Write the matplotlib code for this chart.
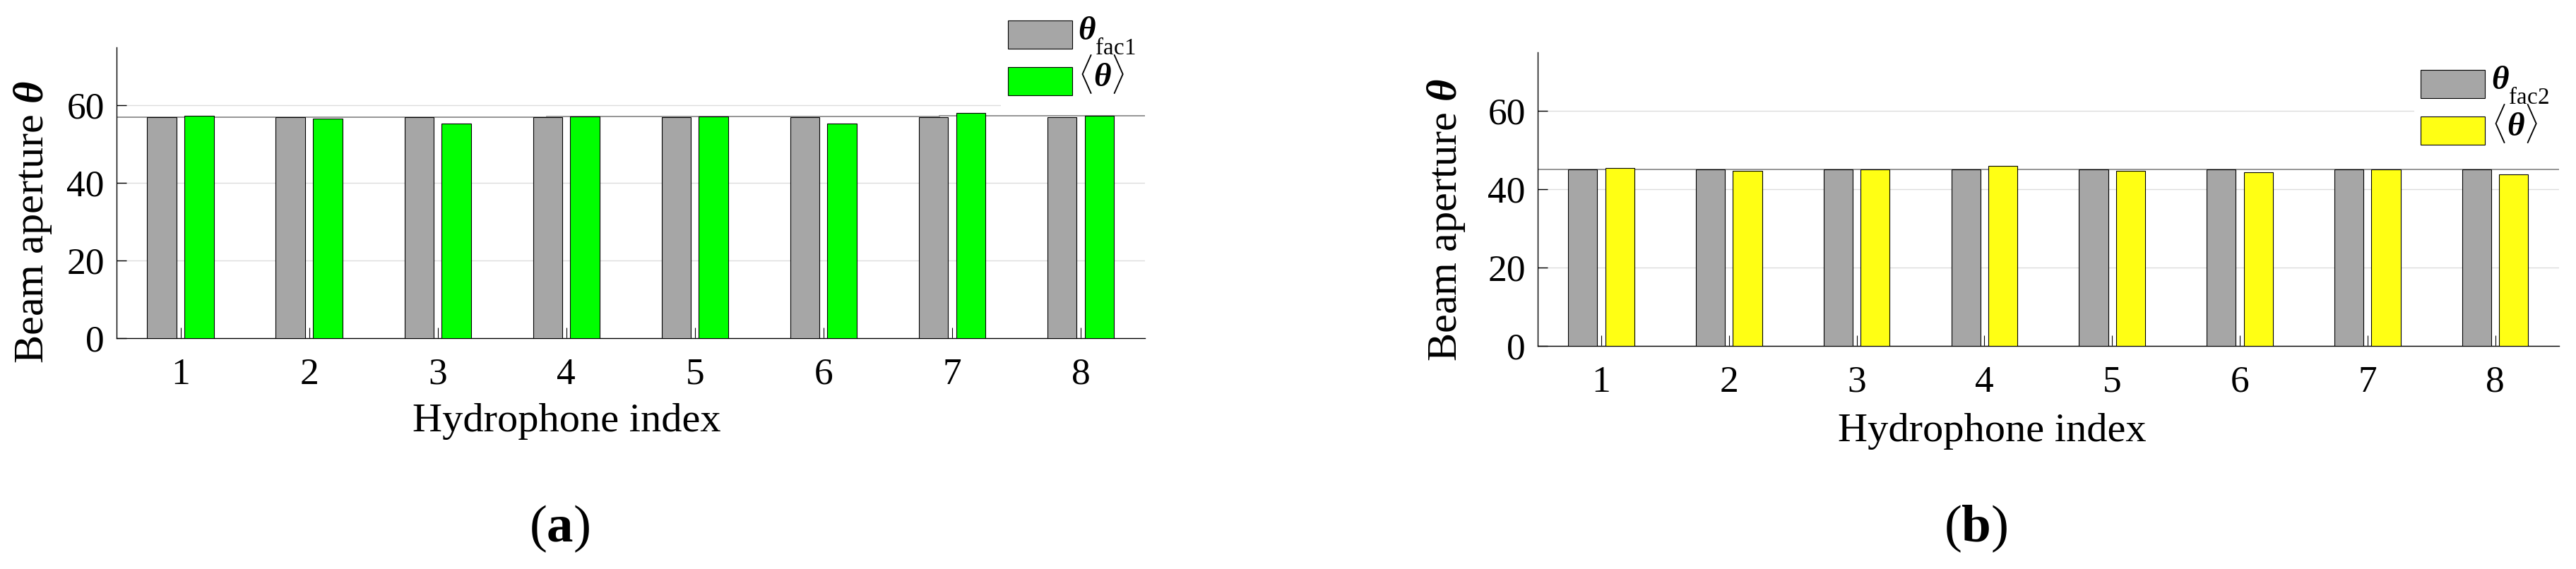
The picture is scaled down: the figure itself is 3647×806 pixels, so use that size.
import numpy as np
import matplotlib
matplotlib.use('Agg')
import matplotlib.pyplot as plt
import matplotlib._mathtext as mathtext_internal
from matplotlib.patches import Rectangle
from matplotlib.container import BarContainer
from matplotlib.legend_handler import HandlerPatch, update_from_first_child

# ---------------------------------------------------------------------------
# fonts (Times-like, as in the MATLAB original)
# ---------------------------------------------------------------------------
plt.rcParams['font.family'] = ['Liberation Serif', 'DejaVu Serif']
plt.rcParams['mathtext.fontset'] = 'custom'
plt.rcParams['mathtext.rm'] = 'Liberation Serif'
plt.rcParams['mathtext.it'] = 'Liberation Serif:italic'
plt.rcParams['mathtext.bf'] = 'Liberation Serif:bold'
plt.rcParams['mathtext.bfit'] = 'Liberation Serif:italic:bold'
# MATLAB/TeX drops the subscript lower than matplotlib does by default
mathtext_internal.FontConstantsBase.sub1 = 1.0

# ---------------------------------------------------------------------------
# data
# ---------------------------------------------------------------------------
hydrophones = [1, 2, 3, 4, 5, 6, 7, 8]

# panel (a)
theta_fac1 = [56.9, 56.9, 56.9, 56.9, 56.9, 56.9, 56.9, 56.9]
mean_theta_a = [57.3, 56.6, 55.3, 57.1, 57.1, 55.3, 58.0, 57.3]
ref_edges_a = [0.5, 3.85, 6.9, 8.5]
ref_vals_a = [56.9, 57.1, 57.3]

# panel (b)
theta_fac2 = [45.0, 45.0, 45.0, 45.0, 45.0, 45.0, 45.0, 45.0]
mean_theta_b = [45.5, 44.8, 45.1, 46.0, 44.8, 44.4, 45.1, 43.9]
ref_edges_b = [0.5, 4.17, 8.5]
ref_vals_b = [45.0, 45.1]

y_ticks = [0, 20, 40, 60]

# ---------------------------------------------------------------------------
# figure
# ---------------------------------------------------------------------------
W, H = 3647, 806
fig = plt.figure(figsize=(W / 100, H / 100), dpi=100)
LEG_FS = 34
LEG_FS_PX = LEG_FS * 100 / 72


def px_axes(left, top, right, bottom):
    return fig.add_axes([left / W, 1 - bottom / H, (right - left) / W, (bottom - top) / H])


def lowered_box(legend, orig_handle, xdescent, ydescent, width, height, fontsize):
    # colour box sits a bit lower than the label text in the MATLAB legend
    return Rectangle((-xdescent, -ydescent - 6.2), width, height)


bar_handler = HandlerPatch(patch_func=lowered_box, update_func=update_from_first_child)


def make_legend(ax, handles, labels, anchor, spacing):
    return ax.legend(handles, labels, loc='upper left', bbox_to_anchor=anchor,
                     bbox_transform=fig.transFigure, frameon=False,
                     borderpad=0, borderaxespad=0, handlelength=1.93,
                     handleheight=0.93, handletextpad=0.18,
                     labelspacing=spacing, fontsize=LEG_FS,
                     handler_map={BarContainer: bar_handler})


def legend_in_place(ax, handles, labels, hx, htop, row_step):
    # build the legend, then nudge it so the colour boxes sit where they are
    # in the original (left/top of first box, distance between boxes)
    anchor = (hx / W, 1 - htop / H)
    leg = make_legend(ax, handles, labels, anchor, 0.3)
    fig.canvas.draw()
    r = fig.canvas.get_renderer()
    hb = [h.get_window_extent(r) for h in leg.legend_handles]
    spacing = 0.3 + (row_step - (hb[0].y1 - hb[1].y1)) / LEG_FS_PX
    leg.remove()
    leg = make_legend(ax, handles, labels, anchor, spacing)
    fig.canvas.draw()
    hb0 = leg.legend_handles[0].get_window_extent(fig.canvas.get_renderer())
    dx = hx - hb0.x0
    dy = (H - htop) - hb0.y1
    leg.set_bbox_to_anchor((anchor[0] + dx / W, anchor[1] + dy / H),
                           transform=fig.transFigure)
    return leg


def draw_panel(ax, fac, mean, mean_color, fac_label, edges, vals,
               xlabel_xy, ylabel_xy):
    x = np.array(hydrophones)
    b1 = ax.bar(x - 0.145, fac, width=0.228, color='#a6a6a6',
                edgecolor='black', linewidth=0.8, zorder=3)
    b2 = ax.bar(x + 0.145, mean, width=0.228, color=mean_color,
                edgecolor='black', linewidth=0.8, zorder=3)
    ax.stairs(vals, edges, baseline=None, color='#8c8c8c', linewidth=1.3, zorder=2)

    ax.set_xlim(0.5, 8.5)
    ax.set_ylim(0, 75)
    ax.set_xticks(hydrophones)
    ax.set_yticks(y_ticks)
    ax.yaxis.grid(True, color='#dcdcdc', linewidth=1.0)
    ax.set_axisbelow(True)

    for s in ['top', 'right']:
        ax.spines[s].set_visible(False)
    for s in ['left', 'bottom']:
        ax.spines[s].set_linewidth(1.0)

    ax.tick_params(axis='x', direction='in', length=10.5, width=0.8,
                   labelsize=38.5, pad=20)
    ax.tick_params(axis='y', direction='in', length=10, width=1.0,
                   labelsize=38.5, pad=12)

    ax.set_xlabel('Hydrophone index', fontsize=42)
    ax.xaxis.set_label_coords(*xlabel_xy)
    ax.set_ylabel(r'Beam aperture $\mathbfit{\theta}$', fontsize=43.5)
    ax.yaxis.set_label_coords(*ylabel_xy)
    return [b1, b2], [fac_label, r'$\langle\mathbfit{\theta}\rangle$']


def legend_background(ax, left, top, right, bottom):
    ax.add_patch(Rectangle((left / W, 1 - bottom / H), (right - left) / W,
                           (bottom - top) / H, transform=fig.transFigure,
                           facecolor='white', edgecolor='none',
                           clip_on=False, zorder=4))


ax_a = px_axes(164.5, 67, 1621, 479)
h_a, l_a = draw_panel(ax_a, theta_fac1, mean_theta_a, '#00ff00',
                      r'$\mathbfit{\theta}_{\mathrm{fac1}}$', ref_edges_a, ref_vals_a,
                      xlabel_xy=(0.438, -0.223), ylabel_xy=(-0.061, 0.40))
legend_background(ax_a, 1417, 15, 1625, 154)

ax_b = px_axes(2176.5, 74, 3623, 490)
h_b, l_b = draw_panel(ax_b, theta_fac2, mean_theta_b, '#ffff14',
                      r'$\mathbfit{\theta}_{\mathrm{fac2}}$', ref_edges_b, ref_vals_b,
                      xlabel_xy=(0.445, -0.228), ylabel_xy=(-0.069, 0.428))
legend_background(ax_b, 3418, 85, 3627, 228)

# sub-captions
fig.text(792 / W, 1 - 767 / H, r'($\mathbf{a}$)', fontsize=54,
         ha='center', va='baseline')
fig.text(2797 / W, 1 - 767 / H, r'($\mathbf{b}$)', fontsize=54,
         ha='center', va='baseline')

legend_in_place(ax_a, h_a, l_a, 1426.7, 28.7, 66.0)
legend_in_place(ax_b, h_b, l_b, 3427.0, 98.7, 66.3)

fig.savefig('out.png', dpi=100, facecolor='white')
